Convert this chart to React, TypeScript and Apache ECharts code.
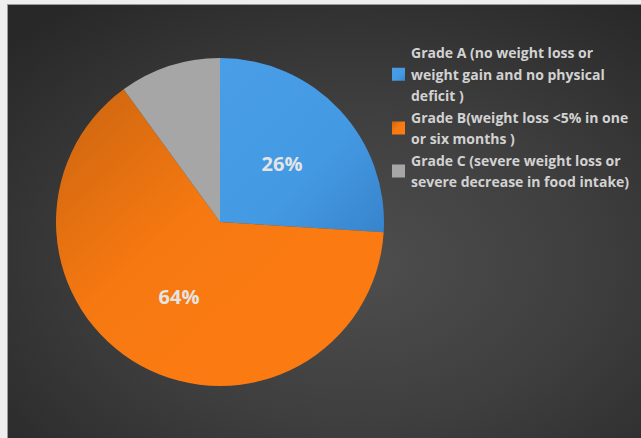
import React, { useEffect, useRef } from "react";
import * as echarts from "echarts";

const categories = [
  "Grade A (no weight loss or weight gain and no physical deficit )",
  "Grade B(weight loss <5% in one or six months )",
  "Grade C (severe weight loss or severe decrease in food intake)",
];
const legendLines = [
  "Grade A (no weight loss or\nweight gain and no physical\ndeficit )",
  "Grade B(weight loss <5% in one\nor six months )",
  "Grade C (severe weight loss or\nsevere decrease in food intake)",
];
const values = [26, 64, 10];
const showLabel = [true, true, false];

export default function App() {
  const ref = useRef<HTMLDivElement>(null);
  useEffect(() => {
    document.body.style.margin = "0";
    const chart = echarts.init(ref.current!, null, { renderer: "svg" });
    const colors = [
      {
        type: "linear", x: 0, y: 0, x2: 1, y2: 1,
        colorStops: [
          { offset: 0, color: "#4a9ee8" },
          { offset: 0.6, color: "#4499e3" },
          { offset: 1, color: "#3784cc" },
        ],
      },
      {
        type: "linear", x: 0, y: 0.1, x2: 0.6, y2: 0.7,
        colorStops: [
          { offset: 0, color: "#cf6710" },
          { offset: 0.6, color: "#f57811" },
          { offset: 1, color: "#fb7b12" },
        ],
      },
      "#a6a6a6",
    ];
    chart.setOption({
      animation: false,
      backgroundColor: "#eeeeee",
      graphic: [
        {
          type: "rect",
          shape: { x: 7, y: 4, width: 634, height: 434 },
          style: { fill: "#9a9a9a" },
          silent: true,
          z: -10,
        },
        {
          type: "rect",
          shape: { x: 8, y: 5, width: 633, height: 433 },
          style: {
            fill: {
              type: "radial", x: 0.55, y: 0.6, r: 0.75,
              colorStops: [
                { offset: 0, color: "#4e4e4e" },
                { offset: 0.5, color: "#3e3e3e" },
                { offset: 1, color: "#282828" },
              ],
            },
          },
          silent: true,
          z: -9,
        },
      ],
      legend: {
        orient: "vertical",
        left: 392,
        top: 42,
        padding: 0,
        itemWidth: 13,
        itemHeight: 13,
        itemGap: 0,
        icon: "rect",
        data: categories,
        formatter: (name: string) => legendLines[categories.indexOf(name)],
        textStyle: {
          color: "#d2d2d2",
          fontFamily: "Open Sans",
          fontWeight: "bold",
          fontSize: 14,
          lineHeight: 21.5,
          padding: [0, 0, 0, 1],
        },
      },
      series: [
        {
          type: "pie",
          center: [220, 222],
          radius: 164,
          startAngle: 90,
          clockwise: true,
          data: categories.map((c, i) => ({
            name: c,
            value: values[i],
            itemStyle: { color: colors[i] },
            label: { show: showLabel[i] },
          })),
          label: {
            position: "inner",
            formatter: "{d}%",
            color: "#e4e4e4",
            fontFamily: "Open Sans",
            fontWeight: "bold",
            fontSize: 20,
          },
          labelLine: { show: false },
          itemStyle: { borderWidth: 0 },
          emphasis: { disabled: true },
        },
      ],
    });
    return () => chart.dispose();
  }, []);
  return <div ref={ref} style={{ width: 641, height: 438 }} />;
}
